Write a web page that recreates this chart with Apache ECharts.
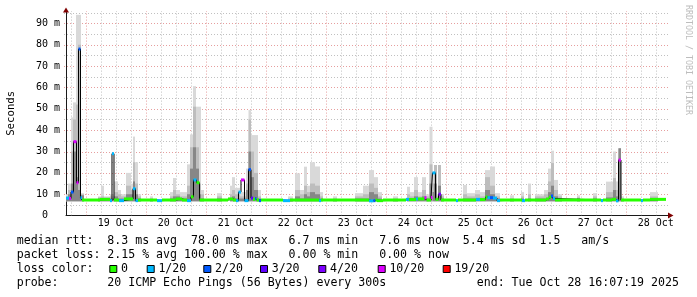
<!DOCTYPE html>
<html><head><meta charset="utf-8">
<script src="https://cdn.jsdelivr.net/npm/echarts@6/dist/echarts.min.js"></script>
<style>html,body{margin:0;padding:0;background:#fff}#c{width:697px;height:297px}</style>
</head><body><div id="c"></div>
<script>
// All times are hours since 18 Oct 2025 00:00
const startHour = 16.122;      // 18 Oct 16:07:19
const endHour = 256.122;       // 28 Oct 16:07:19
const axisEndHour = 257.32;
const yMax = 95.8;
const smokeFloor = 6.7;        // min rtt

const dayLabelHours = [36, 60, 84, 108, 132, 156, 180, 204, 228, 252];
const dayLabels = ['19 Oct', '20 Oct', '21 Oct', '22 Oct', '23 Oct', '24 Oct', '25 Oct', '26 Oct', '27 Oct', '28 Oct'];
const yTickValues = [0, 10, 20, 30, 40, 50, 60, 70, 80, 90];
const yTickLabels = ['0  ', '10 m', '20 m', '30 m', '40 m', '50 m', '60 m', '70 m', '80 m', '90 m'];

// median rtt (ms), step values, with loss class index
const medHours = [16.12, 17.32, 18.12, 19.12, 20.32, 21.12, 21.92, 22.52, 29.72, 33.72,
  34.52, 35.32, 37.32, 39.32, 42.92, 43.92, 44.92, 52.52, 54.52, 60.12,
  62.52, 64.52, 66.12, 67.12, 68.32, 69.52, 80.92, 82.92, 84.12, 85.12,
  86.12, 87.52, 89.12, 90.12, 90.92, 91.72, 92.32, 93.32, 94.12, 102.92,
  105.72, 117.32, 118.12, 137.32, 139.12, 139.92, 140.52, 142.92, 152.12, 153.32,
  156.12, 156.92, 159.52, 160.32, 162.12, 162.72, 163.92, 165.12, 166.12, 172.12,
  172.92, 180.12, 181.72, 183.92, 184.72, 185.72, 186.92, 188.52, 189.72, 198.52,
  199.72, 208.12, 209.32, 210.12, 210.92, 211.72, 230.12, 230.92, 234.52, 236.12,
  237.12, 238.12, 246.12, 246.92, 249.72];
const medValues = [8.2, 8.0, 11, 34.6, 15.4, 78, 8.3, 7.3, 7.6, 7.0,
  29, 7.3, 7.0, 7.8, 12.6, 7.0, 7.3, 7.0, 7.3, 7.8,
  7.3, 7.0, 8.8, 16.7, 15.4, 7.3, 7.8, 7.3, 7.0, 11,
  16.7, 7.0, 21.5, 8.2, 7.6, 8.0, 7.3, 7.0, 7.3, 7.0,
  7.3, 7.0, 7.3, 6.9, 7.0, 7.3, 7.0, 7.3, 7.6, 7.5,
  7.8, 7.8, 8.4, 7.3, 8.5, 20, 7.6, 10, 7.3, 7.0,
  7.3, 7.6, 7.5, 8.7, 8.4, 8.4, 8.2, 7.0, 7.3, 7.0,
  7.3, 7.8, 8.6, 9.2, 8.0, 7.3, 7.0, 7.3, 7.6, 6.9,
  26, 7.3, 7.0, 7.3, 7.6];
const medLoss = [1, 5, 2, 5, 5, 2, 1, 0, 0, 1,
  1, 0, 1, 0, 1, 1, 0, 1, 0, 0,
  0, 1, 0, 1, 0, 0, 0, 0, 1, 1,
  5, 1, 2, 3, 0, 2, 0, 2, 0, 1,
  0, 1, 0, 1, 2, 0, 0, 0, 1, 0,
  1, 0, 5, 0, 5, 1, 0, 4, 0, 1,
  0, 1, 0, 0, 1, 2, 1, 1, 0, 1,
  0, 0, 0, 2, 1, 0, 1, 0, 0, 1,
  5, 0, 1, 0, 0];

// smoke columns (ms): max ping, mid band top, core band top
const smokeFrom = [16.12, 16.92, 18.12, 18.92, 20.12, 20.92, 22.12, 28.92, 30.12, 31.32,
  33.72, 35.32, 36.92, 38.12, 40.12, 42.12, 42.92, 43.72, 44.92, 49.72,
  57.72, 58.92, 60.12, 61.72, 64.52, 65.72, 66.92, 68.12, 69.32, 70.12,
  76.52, 81.72, 82.52, 83.72, 85.72, 88.12, 89.12, 90.12, 91.32, 92.92,
  104.92, 107.72, 109.72, 111.32, 112.52, 113.72, 115.72, 117.72, 122.92, 131.72,
  134.92, 137.32, 139.32, 140.92, 146.92, 152.52, 153.72, 155.32, 156.92, 158.52,
  160.12, 161.52, 162.72, 163.32, 164.52, 164.92, 166.12, 174.92, 176.52, 179.72,
  181.72, 183.72, 185.72, 187.72, 193.72, 198.12, 200.92, 203.72, 207.32, 208.92,
  210.12, 211.32, 212.92, 220.52, 226.92, 232.12, 234.92, 236.12, 237.12, 238.12,
  249.72];
const smokeTo = [16.92, 18.12, 18.92, 20.12, 20.92, 22.12, 23.32, 30.12, 31.32, 33.72,
  35.32, 36.92, 38.12, 40.12, 42.12, 42.92, 43.72, 44.92, 46.12, 50.92,
  58.92, 60.12, 61.72, 64.52, 65.72, 66.92, 68.12, 69.32, 70.12, 71.32,
  78.52, 82.52, 83.72, 85.72, 88.12, 89.12, 90.12, 91.32, 92.92, 94.12,
  106.92, 109.72, 111.32, 112.52, 113.72, 115.72, 117.72, 118.92, 124.52, 134.92,
  137.32, 139.32, 140.92, 142.52, 148.92, 153.72, 155.32, 156.92, 158.52, 160.12,
  161.52, 162.72, 163.32, 164.52, 164.92, 166.12, 167.32, 176.52, 179.72, 181.72,
  183.72, 185.72, 187.72, 189.72, 195.32, 199.32, 202.12, 207.32, 208.92, 210.12,
  211.32, 212.92, 214.52, 221.72, 228.52, 234.92, 236.12, 237.12, 238.12, 239.32,
  252.92];
const smokeMax = [10, 15, 46, 53, 94, 94, 10.5, 9, 14, 9,
  10, 16, 12, 10, 20, 15, 37, 25, 10, 9,
  11, 17.6, 12, 11, 24, 38, 60.6, 51, 51, 12,
  10.5, 14, 18, 13, 11, 22, 49.4, 37.7, 37.7, 12,
  9, 19.8, 12, 22.9, 14, 25, 23, 11, 9, 10.5,
  14, 21.3, 18, 11, 9, 13.5, 11, 18, 11, 18,
  10, 41.6, 20, 23.7, 10, 23.7, 10, 14.3, 10.5, 12,
  11, 21.3, 23, 10.5, 9.5, 11, 15, 10, 12, 22,
  30.4, 16.7, 10, 9.5, 10.5, 15.9, 30, 16, 31.5, 9,
  11];
const smokeMid = [9, 12, 30, 45, 52, 80, 10, 8.5, 9, 8.5,
  9, 11, 10, 9, 14, 12, 25, 15, 9, 8,
  9, 12, 10, 9, 14, 32, 51, 32, 15, 10,
  9, 10, 12, 10, 9, 15, 45, 30, 20, 9,
  8, 12, 10, 14, 11, 15, 14, 9, 8, 9,
  10, 15, 13, 9, 8, 10, 9, 12, 9, 12,
  9, 24, 15, 23.7, 9, 23.7, 9, 10, 9, 10,
  9, 18, 14, 9, 8, 9, 10, 9, 10, 16,
  24.6, 12, 9, 8.5, 9, 11, 17.6, 12, 31.5, 8,
  9];
const smokeCore = [8, 10, 15, 30, 18, 12, 9.5, 8, 8, 8,
  8, 9, 8, 8, 10, 10, 16, 10, 8, 7.5,
  8, 9, 9, 8, 10, 22, 32, 22, 10, 8,
  8, 8, 9, 8, 8, 12, 30, 18, 12, 8,
  7.5, 9, 8, 10, 9, 11, 10, 8, 7.5, 8,
  8, 11, 10, 8, 7.5, 8, 8, 9, 8, 9,
  8, 15, 11, 15, 8, 14, 8, 8, 8, 8,
  8, 12, 10, 8, 7.5, 8, 8, 8, 8, 11,
  14, 9, 8, 8, 8, 8.5, 12, 9, 31.5, 7.5,
  8];

const lossLabels = ['0', '1/20', '2/20', '3/20', '4/20', '10/20', '19/20'];
const lossColors = ['#26ff00', '#00b8ff', '#0059ff', '#5e00ff', '#7e00ff', '#dd00ff', '#ff0000'];

const rttLine = 'median rtt:  8.3 ms avg  78.0 ms max   6.7 ms min   7.6 ms now  5.4 ms sd  1.5   am/s';
const lossLine = 'packet loss: 2.15 % avg 100.00 % max   0.00 % min   0.00 % now';
const colorLineTitle = 'loss color:';
const probeLine = 'probe:       20 ICMP Echo Pings (56 Bytes) every 300s             end: Tue Oct 28 16:07:19 2025';

// ---- layout / styles ----
const MONO = '"DejaVu Sans Mono", monospace';
const GRID_MINOR = 'rgba(140,140,140,0.55)';
const GRID_MAJOR = 'rgba(200,40,40,0.45)';
const AXIS_COLOR = '#1a1a1a';
const ARROW_COLOR = '#7f0000';

const vGrid = [];
for (let h = 18; h <= axisEndHour; h += 6) vGrid.push([h, h % 24 === 0 ? 1 : 0]);
const hGrid = [];
for (let v = 5; v < yMax; v += 5) hGrid.push([startHour, v, v % 10 === 0 ? 1 : 0]);

const medData = medHours.map((h, i) => [h, medValues[i]]);
medData.push([endHour, medValues[medValues.length - 1]]);
const segData = medHours.map((h, i) => [h, i + 1 < medHours.length ? medHours[i + 1] : endHour, medValues[i], medLoss[i]]);
const smokeData = smokeFrom.map((f, i) => [f, smokeTo[i], smokeMax[i], smokeMid[i], smokeCore[i]]);

const chart = echarts.init(document.getElementById('c'), null, {renderer: 'canvas'});

const option = {
  animation: false,
  backgroundColor: '#ffffff',
  grid: {left: 66, right: 28, top: 11, bottom: 81.4, containLabel: false, outerBoundsMode: 'none'},
  xAxis: {
    type: 'value', min: startHour, max: axisEndHour,
    axisLine: {show: true, onZero: false, lineStyle: {color: AXIS_COLOR, width: 1}},
    axisTick: {show: false},
    splitLine: {show: false},
    axisLabel: {
      customValues: dayLabelHours,
      formatter: v => { const i = dayLabelHours.indexOf(v); return i >= 0 ? dayLabels[i] : ''; },
      fontFamily: MONO, fontSize: 10, color: '#000', margin: 3
    }
  },
  yAxis: {
    type: 'value', min: 0, max: yMax, interval: 10,
    name: 'Seconds', nameLocation: 'middle', nameRotate: 90, nameGap: 49,
    nameTextStyle: {fontFamily: MONO, fontSize: 10.7, color: '#000'},
    axisLine: {show: true, lineStyle: {color: AXIS_COLOR, width: 1}},
    axisTick: {show: false},
    splitLine: {show: false},
    axisLabel: {
      formatter: v => { const i = yTickValues.indexOf(v); return i >= 0 ? yTickLabels[i] : ''; },
      fontFamily: MONO, fontSize: 10, color: '#000', margin: 6
    }
  },
  series: [
    {
      type: 'custom', name: 'vgrid', z: 1, silent: true,
      data: vGrid, encode: {x: 0},
      renderItem: (p, api) => {
        const h = api.value(0);
        const a = api.coord([h, 0]), b = api.coord([h, yMax]);
        const x = Math.round(a[0]) + 0.5;
        return {type: 'line', shape: {x1: x, y1: a[1], x2: x, y2: b[1]},
          style: {stroke: api.value(1) ? GRID_MAJOR : GRID_MINOR, lineWidth: 1, lineDash: [1, 2]}};
      }
    },
    {
      type: 'custom', name: 'hgrid', z: 1, silent: true,
      data: hGrid, encode: {x: 0, y: 1},
      renderItem: (p, api) => {
        const v = api.value(1);
        const a = api.coord([startHour, v]), b = api.coord([axisEndHour, v]);
        const y = Math.round(a[1]) + 0.5;
        return {type: 'line', shape: {x1: a[0] - 2, y1: y, x2: b[0], y2: y},
          style: {stroke: api.value(2) ? GRID_MAJOR : GRID_MINOR, lineWidth: 1, lineDash: [1, 2]}};
      }
    },
    {
      type: 'custom', name: 'smoke', z: 2, silent: true,
      data: smokeData, encode: {x: [0, 1], y: [2, 3, 4]},
      renderItem: (p, api) => {
        const x0 = api.value(0), x1 = api.value(1);
        const bands = [[api.value(2), '#d9d9d9'], [api.value(3), '#bdbdbd'], [api.value(4), '#878787']];
        const children = bands.map(([top, col]) => {
          const a = api.coord([x0, top]), b = api.coord([x1, smokeFloor]);
          return {type: 'rect', shape: {x: a[0], y: a[1], width: b[0] - a[0], height: b[1] - a[1]}, style: {fill: col}};
        });
        return {type: 'group', children};
      }
    },
    {
      type: 'line', name: 'median', z: 3, step: 'end', symbol: 'none', silent: true,
      data: medData, lineStyle: {color: '#000', width: 1}
    },
    {
      type: 'custom', name: 'lossColor', z: 4, silent: true,
      data: segData, encode: {x: [0, 1], y: 2},
      renderItem: (p, api) => {
        const a = api.coord([api.value(0), api.value(2)]), b = api.coord([api.value(1), api.value(2)]);
        return {type: 'line', shape: {x1: a[0], y1: a[1], x2: b[0], y2: b[1]},
          style: {stroke: lossColors[api.value(3)], lineWidth: 3}};
      }
    }
  ]
};
chart.setOption(option);

// ---- legend & decorations ----
const LEG_FONT = '11.58px ' + MONO;
function txt(id, x, y, text) {
  return {type: 'text', id, x, y, silent: true,
    style: {text, font: LEG_FONT, fill: '#000', align: 'left', verticalAlign: 'middle'}};
}
const g = [];
const rowY = [241, 255, 269, 283];
const legX = 16.7;
g.push(txt('r', legX, rowY[0], rttLine));
g.push(txt('l', legX, rowY[1], lossLine));
g.push(txt('ct', legX, rowY[2], colorLineTitle));
const boxX = [109.3, 146.7, 203.3, 260, 318.3, 377.7, 442.7];
lossLabels.forEach((t, i) => {
  g.push({type: 'rect', id: 'b' + i, silent: true, shape: {x: boxX[i] + 0.5, y: rowY[2] - 3.5, width: 7, height: 7},
    style: {fill: lossColors[i], stroke: '#000', lineWidth: 1}});
  g.push(txt('bl' + i, boxX[i] + 11.7, rowY[2], t));
});
g.push(txt('p', legX, rowY[3], probeLine));
g.push({type: 'text', id: 'rrd', x: 688, y: 5, rotation: -Math.PI / 2, silent: true,
  style: {text: 'RRDTOOL / TOBI OETIKER', font: '8.3px ' + MONO, fill: '#bdbdbd', align: 'left', verticalAlign: 'middle'}});

const pEnd = chart.convertToPixel({gridIndex: 0}, [axisEndHour, 0]);
const pTop = chart.convertToPixel({gridIndex: 0}, [startHour, yMax]);
g.push({type: 'polygon', id: 'ax', silent: true, z: 10,
  shape: {points: [[pEnd[0] - 1, pEnd[1] - 3], [pEnd[0] + 4.5, pEnd[1]], [pEnd[0] - 1, pEnd[1] + 3]]},
  style: {fill: ARROW_COLOR}});
g.push({type: 'polygon', id: 'ay', silent: true, z: 10,
  shape: {points: [[pTop[0] - 3, pTop[1] + 1.5], [pTop[0], pTop[1] - 3.5], [pTop[0] + 3, pTop[1] + 1.5]]},
  style: {fill: ARROW_COLOR}});
chart.setOption({graphic: g});
</script>
</body></html>
